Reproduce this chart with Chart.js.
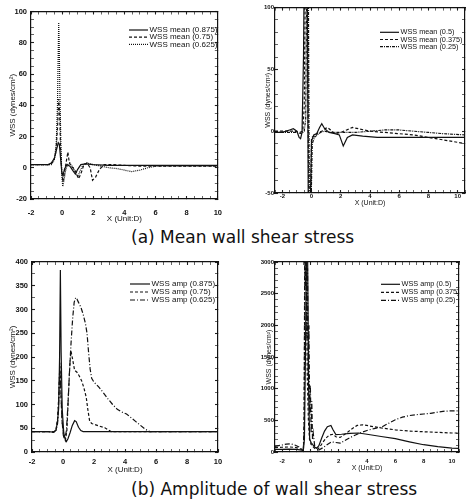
<!DOCTYPE html>
<html>
<head>
<meta charset="utf-8">
<script src="https://cdn.jsdelivr.net/npm/chart.js@4"></script>
<style>
    body { margin: 0; background: #fff; }
    #fig { position: relative; width: 468px; height: 502px; overflow: hidden; }
    #fig canvas { position: absolute; }
    .caption {
        position: absolute; left: 131px; line-height: 20px;
        font-family: 'DejaVu Sans', sans-serif; font-size: 17px;
        color: #111; white-space: nowrap; }
</style>
</head>
<body>
<div id="fig">
    <canvas id="meanHigh" width="234" height="226" style="left:0px;top:0px"></canvas>
    <canvas id="meanLow" width="234" height="212" style="left:234px;top:0px"></canvas>
    <canvas id="ampHigh" width="234" height="226" style="left:0px;top:250px"></canvas>
    <canvas id="ampLow" width="234" height="226" style="left:234px;top:250px"></canvas>
    <div class="caption" style="top:227px">(a) Mean wall shear stress</div>
    <div class="caption" style="top:479px">(b) Amplitude of wall shear stress</div>
</div>

<script>
/*
    Wall shear stress along the wall, X in units of D.
    (a) mean and (b) amplitude, two groups of three cases each.
*/

Chart.defaults.font.family = "'Liberation Sans', Arial, sans-serif";
Chart.defaults.color = '#111';
Chart.defaults.animation = false;


// Tick labels

var x_labels = [-2, 0, 2, 4, 6, 8, 10];
var mean_high_y_labels = [-20, 0, 20, 40, 60, 80, 100];
var mean_low_y_labels = [-50, 0, 50, 100];
var amp_high_y_labels = [0, 50, 100, 150, 200, 250, 300, 350, 400];
var amp_low_y_labels = [0, 500, 1000, 1500, 2000, 2500, 3000];


// (a) mean WSS, cases 0.875 / 0.75 / 0.625

var mean_0875_x = [-2, -0.9, -0.7, -0.5, -0.35, -0.25, -0.18, -0.1, -0.02, 0.05, 0.15, 0.3, 0.5, 0.7, 0.85, 1.0, 1.2, 1.5, 2, 3, 4, 6, 8, 10];
var mean_0875_y = [2, 2, 3, 6, 12, 16, 15, 6, -3, -5, -1, 2, 1, -2, -4, -1, 2, 2.5, 2, 1.5, 1.5, 1.5, 1.5, 1.5];

var mean_075_x = [-2, -0.8, -0.55, -0.4, -0.3, -0.22, -0.16, -0.1, -0.03, 0.05, 0.15, 0.25, 0.37, 0.45, 0.55, 0.7, 0.9, 1.05, 1.2, 1.4, 1.6, 1.8, 1.95, 2.15, 2.4, 2.7, 3.2, 4, 5, 6, 8, 10];
var mean_075_y = [2, 2, 4, 10, 25, 44, 35, 12, -2, -9, -3, 3, 10, 4, 1, 0, -3, -7, -4, 2, 3, 0, -8, -6, -1, 2, 2, 1.5, 1, 1, 1, 1];

var mean_0625_x = [-2, -0.7, -0.5, -0.38, -0.3, -0.25, -0.22, -0.19, -0.14, -0.08, -0.02, 0.04, 0.12, 0.22, 0.35, 0.5, 0.7, 0.9, 1.0, 1.15, 1.35, 1.6, 2.0, 2.5, 3, 3.5, 4, 4.45, 5, 5.5, 6, 8, 10];
var mean_0625_y = [2, 2, 5, 15, 40, 75, 93, 80, 45, 15, -5, -12, -8, -2, 2, 3, 0, -4, -6, -2, 2, 3, 2, 1, 0, -0.5, -1.5, -2.5, -1.5, 0, 1, 1, 1];


// (a) mean WSS, cases 0.5 / 0.375 / 0.25

var mean_05_x = [-2.5, -2, -1.5, -1.25, -1.0, -0.85, -0.75, -0.65, -0.55, -0.5, -0.3, -0.22, -0.1, 0.0, 0.15, 0.35, 0.55, 0.7, 0.9, 1.2, 1.6, 1.9, 2.17, 2.45, 2.8, 3.5, 4.5, 6, 8, 9.5, 10.5];
var mean_05_y = [-1, -1, 1, 2, 0, -5, -6, -1, 60, 130, 130, -70, -70, -8, -3, -2, 3, 6, 2, -1, -2, -3, -12, -5, -3, -4, -5, -5, -5, -5, -5];

var mean_0375_x = [-2.5, -2, -1.2, -0.8, -0.6, -0.5, -0.42, -0.3, -0.18, -0.08, 0.0, 0.2, 0.45, 0.7, 0.9, 1.1, 1.3, 1.6, 2.0, 2.4, 2.8, 3.2, 4, 5, 6, 7, 8, 9, 10.5];
var mean_0375_y = [0, 0, 0, -1, 0, 20, 130, 130, -70, -70, -5, -4, -1, 0, 2, 3, 1, -2, -1, 1, 3, 2, 0, -1, -2, -3, -5, -7, -10];

var mean_025_x = [-2.5, -2, -1.5, -1, -0.7, -0.5, -0.4, -0.32, -0.22, -0.15, -0.05, 0.05, 0.2, 0.4, 0.6, 0.9, 1.3, 2, 3, 4, 5, 6, 7, 8, 9, 10.5];
var mean_025_y = [-1, -1, -1, -1, -2, 0, 10, 130, 130, -70, -70, -10, -5, -3, -1, 0, -1, -1, -1, 0, 1, 1, 0, -1, -2, -3];


// (b) WSS amplitude, cases 0.875 / 0.75 / 0.625

var amp_0875_x = [-2, -1, -0.6, -0.45, -0.35, -0.28, -0.22, -0.17, -0.12, -0.05, 0.05, 0.15, 0.22, 0.32, 0.45, 0.6, 0.75, 0.85, 1.0, 1.15, 1.3, 1.6, 2.5, 4, 6, 8, 10];
var amp_0875_y = [43, 43, 42, 46, 65, 92, 200, 383, 210, 90, 40, 26, 22, 28, 40, 56, 66, 64, 52, 45, 43, 43, 43, 43, 43, 43, 43];

var amp_075_x = [-2, -1, -0.6, -0.45, -0.35, -0.27, -0.2, -0.13, -0.05, 0.05, 0.15, 0.25, 0.35, 0.45, 0.52, 0.62, 0.75, 0.9, 1.05, 1.2, 1.35, 1.5, 1.6, 1.72, 1.85, 2.05, 2.3, 2.7, 2.9, 3.1, 4, 6, 8, 10];
var amp_075_y = [43, 43, 42, 48, 70, 120, 188, 120, 60, 32, 24, 45, 120, 190, 212, 195, 172, 168, 160, 150, 135, 115, 90, 65, 60, 58, 55, 51, 47, 43, 43, 43, 43, 43];

var amp_0625_x = [-2, -1, -0.6, -0.45, -0.35, -0.27, -0.21, -0.15, -0.07, 0.02, 0.12, 0.22, 0.32, 0.42, 0.52, 0.62, 0.72, 0.82, 0.9, 1.0, 1.15, 1.3, 1.45, 1.55, 1.65, 1.75, 1.85, 2.0, 2.3, 2.6, 2.9, 3.2, 3.5, 3.8, 4.1, 4.4, 4.7, 5.0, 5.3, 5.6, 6, 8, 10];
var amp_0625_y = [43, 43, 42, 46, 60, 110, 175, 140, 70, 35, 28, 45, 100, 170, 230, 280, 315, 325, 322, 315, 305, 290, 270, 250, 210, 175, 155, 147, 137, 125, 112, 100, 90, 84, 80, 72, 64, 56, 48, 43, 43, 43, 43];


// (b) WSS amplitude, cases 0.5 / 0.375 / 0.25

var amp_05_x = [-2.5, -2, -1.5, -1, -0.6, -0.5, -0.42, -0.35, -0.28, -0.2, -0.12, -0.05, 0.05, 0.15, 0.3, 0.45, 0.6, 0.8, 1.0, 1.2, 1.45, 1.6, 1.8, 2.2, 2.8, 3.4, 4, 5, 6, 7, 8, 9, 10, 10.5];
var amp_05_y = [40, 40, 45, 40, 30, 20, 200, 1500, 3200, 3200, 900, 200, 150, 120, 80, 60, 100, 220, 330, 400, 420, 350, 275, 280, 295, 300, 280, 245, 210, 160, 115, 85, 62, 58];

var amp_0375_x = [-2.5, -2, -1.5, -1, -0.6, -0.5, -0.45, -0.38, -0.3, -0.22, -0.14, -0.06, 0.05, 0.2, 0.35, 0.5, 0.7, 0.9, 1.1, 1.35, 1.6, 1.8, 2.1, 2.5, 2.9, 3.3, 3.7, 4.2, 5, 6, 7, 8, 9, 10, 10.5];
var amp_0375_y = [70, 75, 80, 70, 40, 20, 300, 3200, 3200, 1200, 500, 200, 120, 80, 50, 40, 90, 160, 220, 270, 280, 240, 230, 290, 360, 420, 430, 410, 380, 350, 330, 320, 310, 300, 300];

var amp_025_x = [-2.5, -2, -1.7, -1.4, -1.1, -0.8, -0.6, -0.5, -0.44, -0.4, -0.35, -0.3, -0.25, -0.2, -0.15, -0.1, -0.05, 0, 0.05, 0.1, 0.15, 0.2, 0.3, 0.45, 0.6, 0.9, 1.2, 1.5, 1.8, 2.1, 2.5, 3, 3.5, 4, 4.5, 5, 5.5, 6, 6.5, 7, 7.5, 8, 8.5, 9, 9.5, 10, 10.5];
var amp_025_y = [90, 110, 125, 130, 110, 80, 40, 30, 500, 3200, 2600, 3100, 1800, 2900, 1200, 2000, 600, 1050, 300, 800, 200, 300, 100, 60, 30, 70, 120, 160, 150, 140, 190, 250, 300, 340, 370, 390, 450, 510, 550, 575, 590, 600, 610, 630, 645, 650, 650];



// Helpers

function pairs(xs, ys) {
    var out = [];
    for (var i = 0; i < xs.length; i++) {
        out.push({x: xs[i], y: ys[i]});}
    return out;
}

function all_ticks(lo, hi, step) {
    var out = [];
    var n = Math.round((hi - lo) / step);
    for (var i = 0; i <= n; i++) {
        out.push(Math.round((lo + i * step) * 1000) / 1000);}
    return out;
}

function line_set(label, xs, ys, dash) {
    return {
        label: label,
        data: pairs(xs, ys),
        borderColor: '#111',
        borderWidth: 1.2,
        borderDash: dash,
        pointRadius: 0,
        tension: 0,
        xAxisID: 'x',
        yAxisID: 'y',};
}


// Legend drawn inside the plot, line sample left of the text

var inset_legend = {
    id: 'insetLegend',
    afterDatasetsDraw: function(chart, args, opts) {
        var ctx = chart.ctx;
        ctx.save();
        ctx.font = opts.size + "px 'Liberation Sans', Arial, sans-serif";
        ctx.textBaseline = 'middle';
        chart.data.datasets.forEach(function(ds, i) {
            var y = opts.top + i * opts.gap;
            ctx.beginPath();
            ctx.setLineDash(ds.borderDash || []);
            ctx.lineWidth = ds.borderWidth;
            ctx.strokeStyle = ds.borderColor;
            ctx.moveTo(opts.left, y);
            ctx.lineTo(opts.left + opts.len, y);
            ctx.stroke();
            ctx.setLineDash([]);
            ctx.fillStyle = '#111';
            ctx.fillText(ds.label, opts.left + opts.len + 1.5, y);
        });
        ctx.restore();
    },
};


// One panel: frame with inward ticks on all four sides

function wss_panel(canvas_id, datasets, p) {

    var x_ticks = all_ticks(p.xmin, p.xmax, p.xstep);
    var y_ticks = all_ticks(p.ymin, p.ymax, p.ystep);

    function major_width(majors) {
        return function(c) {
            return (c.tick && majors.indexOf(c.tick.value) >= 0) ? 1.1 : 0.7;};
    }

    function grid_for(majors) {
        return {
            drawOnChartArea: false,
            drawTicks: true,
            tickLength: -3,
            tickColor: '#222',
            tickWidth: major_width(majors),};
    }

    var frame = {display: true, color: '#111', width: 1.2};

    var ctx = document.getElementById(canvas_id).getContext('2d');

    return new Chart(ctx, {
        type: 'line',
        data: {datasets: datasets},
        plugins: [inset_legend],

        options: {
            responsive: false,
            animation: false,
            layout: {
                autoPadding: false,
                padding: {left: 0, top: p.top, right: p.right, bottom: 0},},

            scales: {
                x: {
                    type: 'linear', position: 'bottom',
                    min: p.xmin, max: p.xmax,
                    afterBuildTicks: function(s) {
                        s.ticks = x_ticks.map(function(v) { return {value: v}; });},
                    afterFit: function(s) { s.height = p.xh; },
                    grid: grid_for(x_labels),
                    border: frame,
                    ticks: {
                        autoSkip: false, maxRotation: 0,
                        padding: p.xpad,
                        font: {size: p.tick, weight: 'bold'},
                        callback: function(v) {
                            return x_labels.indexOf(v) >= 0 ? String(v) : '';},},
                    title: {
                        display: true, text: 'X (Unit:D)',
                        font: {size: p.title},
                        padding: {top: 0, bottom: p.xtitle},},},
                xt: {
                    type: 'linear', position: 'top',
                    min: p.xmin, max: p.xmax,
                    afterBuildTicks: function(s) {
                        s.ticks = x_ticks.map(function(v) { return {value: v}; });},
                    afterFit: function(s) { s.height = 0; },
                    grid: grid_for(x_labels),
                    border: frame,
                    ticks: {display: false},},
                y: {
                    type: 'linear', position: 'left',
                    min: p.ymin, max: p.ymax,
                    afterBuildTicks: function(s) {
                        s.ticks = y_ticks.map(function(v) { return {value: v}; });},
                    afterFit: function(s) { s.width = p.yw; },
                    grid: grid_for(p.ylabels),
                    border: frame,
                    ticks: {
                        autoSkip: false,
                        padding: p.ypad,
                        font: {size: p.tick, weight: 'bold'},
                        callback: function(v) {
                            return p.ylabels.indexOf(v) >= 0 ? String(v) : '';},},
                    title: {
                        display: true, text: 'WSS (dynes/cm²)',
                        font: {size: p.title},
                        padding: {top: p.ytitle, bottom: 0},},},
                yr: {
                    type: 'linear', position: 'right',
                    min: p.ymin, max: p.ymax,
                    afterBuildTicks: function(s) {
                        s.ticks = y_ticks.map(function(v) { return {value: v}; });},
                    afterFit: function(s) { s.width = 0; },
                    grid: grid_for(p.ylabels),
                    border: frame,
                    ticks: {display: false},},
            },

            plugins: {
                legend: {display: false},
                tooltip: {enabled: false},
                insetLegend: p.legend,},
        },
    });
}



// (a) left: mean, 0.875 / 0.75 / 0.625

wss_panel('meanHigh', [
        line_set('WSS mean (0.875)', mean_0875_x, mean_0875_y, []),
        line_set('WSS mean (0.75)', mean_075_x, mean_075_y, [3, 2]),
        line_set('WSS mean (0.625)', mean_0625_x, mean_0625_y, [1, 1]),],
    {xmin: -2, xmax: 10, xstep: 0.5, ymin: -20, ymax: 100, ystep: 5,
     ylabels: mean_high_y_labels,
     top: 8, right: 16, yw: 31, xh: 27,
     tick: 7.5, title: 8, xpad: 12, ypad: 7, xtitle: 2.2, ytitle: 8.2,
     legend: {left: 129, top: 30, gap: 7.2, len: 19, size: 8}});


// (a) right: mean, 0.5 / 0.375 / 0.25

wss_panel('meanLow', [
        line_set('WSS mean (0.5)', mean_05_x, mean_05_y, []),
        line_set('WSS mean (0.375)', mean_0375_x, mean_0375_y, [3, 2]),
        line_set('WSS mean (0.25)', mean_025_x, mean_025_y, [3, 1, 1, 1]),],
    {xmin: -2.5, xmax: 10.5, xstep: 0.5, ymin: -50, ymax: 100, ystep: 10,
     ylabels: mean_low_y_labels,
     top: 7, right: 1, yw: 41, xh: 19,
     tick: 6, title: 7, xpad: 3, ypad: 4, xtitle: 5.1, ytitle: 30.1,
     legend: {left: 146, top: 32.3, gap: 7.2, len: 19, size: 7.3}});


// (b) left: amplitude, 0.875 / 0.75 / 0.625

wss_panel('ampHigh', [
        line_set('WSS amp (0.875)', amp_0875_x, amp_0875_y, []),
        line_set('WSS amp (0.75)', amp_075_x, amp_075_y, [3, 2]),
        line_set('WSS amp (0.625)', amp_0625_x, amp_0625_y, [5, 2, 1, 2]),],
    {xmin: -2, xmax: 10, xstep: 0.5, ymin: 0, ymax: 400, ystep: 25,
     ylabels: amp_high_y_labels,
     top: 12, right: 16, yw: 32, xh: 24,
     tick: 7.5, title: 8, xpad: 8, ypad: 7, xtitle: 1.5, ytitle: 8.2,
     legend: {left: 130, top: 34, gap: 8, len: 20, size: 8}});


// (b) right: amplitude, 0.5 / 0.375 / 0.25

wss_panel('ampLow', [
        line_set('WSS amp (0.5)', amp_05_x, amp_05_y, []),
        line_set('WSS amp (0.375)', amp_0375_x, amp_0375_y, [3, 2]),
        line_set('WSS amp (0.25)', amp_025_x, amp_025_y, [5, 2, 1, 2]),],
    {xmin: -2.5, xmax: 10.5, xstep: 0.5, ymin: 0, ymax: 3000, ystep: 100,
     ylabels: amp_low_y_labels,
     top: 12, right: 1, yw: 41, xh: 24,
     tick: 6, title: 7, xpad: 9, ypad: 4, xtitle: 3.8, ytitle: 31.3,
     legend: {left: 147, top: 34.3, gap: 8, len: 19, size: 7.3}});

</script>
</body>
</html>
